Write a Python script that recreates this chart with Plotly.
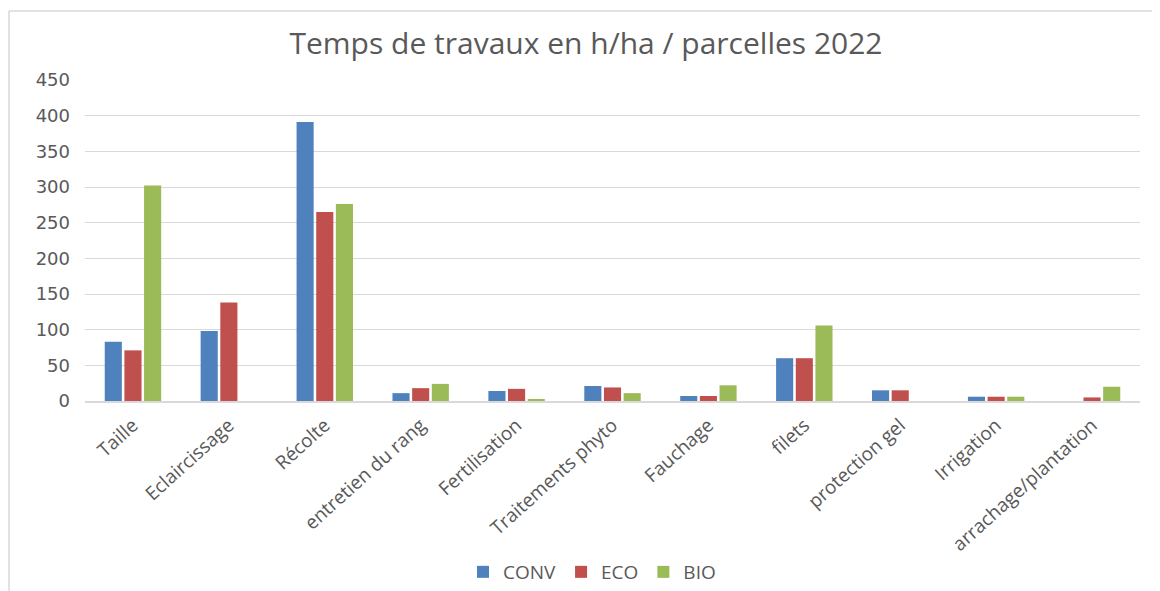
import plotly.graph_objects as go

categories = ["Taille", "Eclaircissage", "Récolte", "entretien du rang", "Fertilisation",
              "Traitements phyto", "Fauchage", "filets", "protection gel", "Irrigation",
              "arrachage/plantation"]
conv = [83, 98, 391, 11, 14, 21, 7, 60, 15, 6, None]
eco = [71, 138, 265, 18, 17, 19, 7, 60, 15, 6, 5]
bio = [302, None, 276, 24, 2, 11, 22, 106, None, 6, 20]
series_names = ["CONV", "ECO", "BIO"]
colors = ["#4F81BD", "#C0504D", "#9BBB59"]
y_ticks = [0, 50, 100, 150, 200, 250, 300, 350, 400, 450]

fig = go.Figure()
for name, vals, col in zip(series_names, [conv, eco, bio], colors):
    fig.add_trace(go.Bar(name=name, x=categories, y=vals, marker_color=col,
                         marker_line_width=0))

# page body has an 8px margin; figure coordinates = screen coordinates - 8
OFF = 8
W, H = 1160 - OFF, 591 - OFF
L, R, T, B = 85 - OFF, 20, 80 - OFF, 591 - 401
pw = W - L - R
ph = H - T - B

fig.update_layout(
    width=W, height=H,
    margin=dict(l=L, r=R, t=T, b=B, autoexpand=False),
    paper_bgcolor="white", plot_bgcolor="white",
    barmode="group", bargap=0.385, bargroupgap=0.13,
    title=dict(text="Temps de travaux en h/ha / parcelles 2022", x=(586 - OFF) / W,
               xanchor="center", y=1 - (43 - OFF) / H, yanchor="middle",
               font=dict(family="Open Sans", size=30, color="#595959")),
    font=dict(family="Open Sans", color="#595959"),
    showlegend=True,
    legend=dict(orientation="h", x=(592 - OFF) / W, xanchor="center",
                xref="container", y=(H - (572 - OFF)) / H, yref="container",
                yanchor="middle",
                font=dict(size=19, color="#595959"), traceorder="normal",
                itemwidth=30),
    xaxis=dict(tickangle=-42, tickfont=dict(size=19, color="#595959"),
               showline=True, linecolor="#D9D9D9", linewidth=1.5, ticks="",
               showgrid=False, automargin=False, ticklabelstandoff=4),
    yaxis=dict(range=[0, 450], tickvals=y_ticks,
               tickfont=dict(family="DejaVu Sans", size=18, color="#595959"),
               showgrid=True, gridcolor="#D9D9D9", gridwidth=1.2, zeroline=False,
               showline=False, ticks="", ticklabelstandoff=14, automargin=False),
    shapes=[
        dict(type="line", xref="paper", yref="paper",
             x0=(1 - L) / pw, x1=(W + 10 - L) / pw,
             y0=(H - B - 3) / ph, y1=(H - B - 3) / ph,
             line=dict(color="#D9D9D9", width=1.5)),
        dict(type="line", xref="paper", yref="paper",
             x0=(1 - L) / pw, x1=(1 - L) / pw,
             y0=(H - B - 3) / ph, y1=(H - B - H - 10) / ph,
             line=dict(color="#D9D9D9", width=1.5)),
    ],
)

fig.write_html("out.html")
